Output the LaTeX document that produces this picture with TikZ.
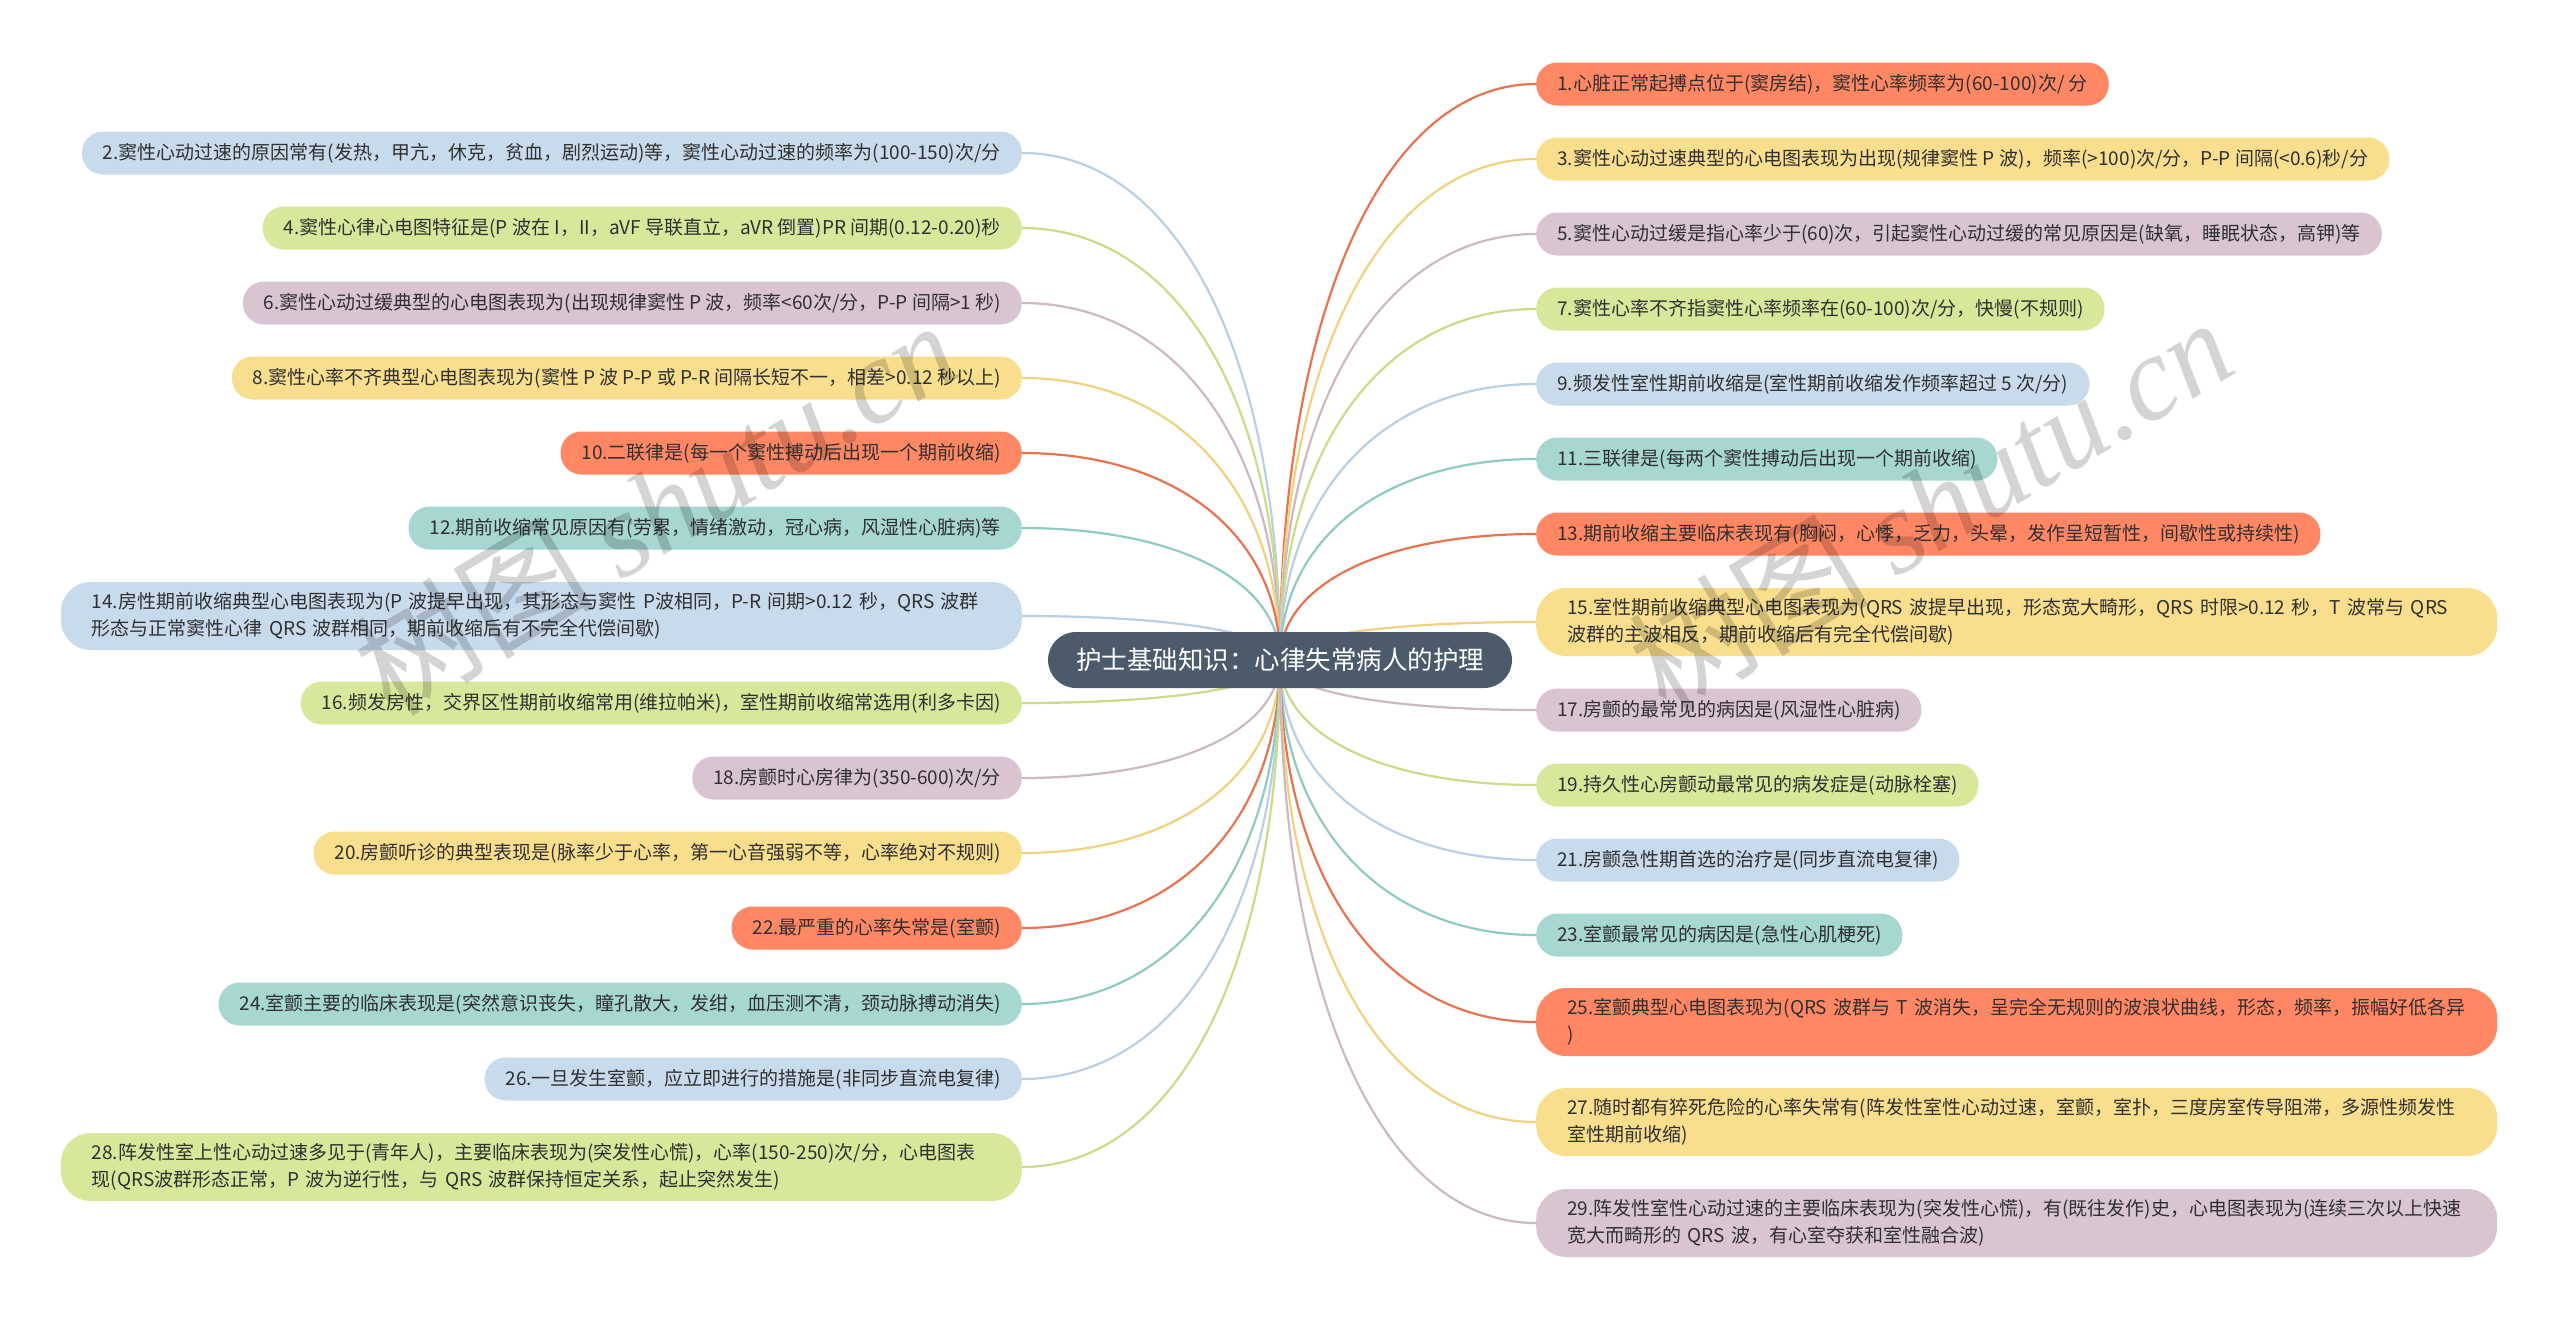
\documentclass[tikz,border=0pt]{standalone}
\usepackage{fontspec}
\setmainfont{Noto Sans CJK SC}
\newfontfamily\cjk{Noto Sans CJK SC}
\newfontfamily\wmlatin{Liberation Serif}
\usetikzlibrary{calc,backgrounds}
\definecolor{txt}{HTML}{303030}
\definecolor{rootc}{HTML}{4B5B6B}
\definecolor{fR}{HTML}{FF8764}\definecolor{lR}{HTML}{E8734F}
\definecolor{fY}{HTML}{F8DE8D}\definecolor{lY}{HTML}{F0D27E}
\definecolor{fM}{HTML}{D9C5D1}\definecolor{lM}{HTML}{CDB8C6}
\definecolor{fG}{HTML}{D8E89B}\definecolor{lG}{HTML}{C9DD88}
\definecolor{fB}{HTML}{C8DBEC}\definecolor{lB}{HTML}{B9CFE4}
\definecolor{fT}{HTML}{A6D7D0}\definecolor{lT}{HTML}{8FCBC2}
\newcommand\mmconn[3]{\draw[link,#3] (root.center) .. controls ($(root.center)!0.6!(root.center |- #1.#2)$) and ($(#1.#2)!0.6!(root.center |- #1.#2)$) .. (#1.#2);}
\tikzset{
  leaf/.style={rounded corners=21pt, minimum height=43pt, inner xsep=21pt, inner ysep=0pt, text=txt, font=\cjk\fontsize{19pt}{27pt}\selectfont},
  twoline/.style={rounded corners=30pt, minimum height=68pt, text width=899pt, inner xsep=31pt, align=left},
  lft/.style={anchor=east},
  rgt/.style={anchor=west},
  link/.style={line width=2.2pt},
  rootbox/.style={rounded corners=28pt, fill=rootc, text=white, minimum height=56pt, minimum width=457pt, inner xsep=28pt, font=\cjk\fontsize{25.5pt}{30pt}\selectfont},
  wmark/.style={text=black, text opacity=0.17, rotate=31, font=\fontsize{120pt}{120pt}\selectfont}
}
\begin{document}
\begin{tikzpicture}[x=1pt,y=-1pt]
\useasboundingbox (0,0) rectangle (2560,1320);
\node[rootbox] (root) at (1280,660) {护士基础知识：心律失常病人的护理};
% left
\node[leaf, fill=fB, lft] (n2) at (1022,153) {2.窦性心动过速的原因常有(发热，甲亢，休克，贫血，剧烈运动)等，窦性心动过速的频率为(100-150)次/分};
\node[leaf, fill=fG, lft] (n4) at (1022,228) {4.窦性心律心电图特征是(P 波在 I，II，aVF 导联直立，aVR 倒置)PR 间期(0.12-0.20)秒};
\node[leaf, fill=fM, lft] (n6) at (1022,303) {6.窦性心动过缓典型的心电图表现为(出现规律窦性 P 波，频率<60次/分，P-P 间隔>1 秒)};
\node[leaf, fill=fY, lft] (n8) at (1022,378) {8.窦性心率不齐典型心电图表现为(窦性 P 波 P-P 或 P-R 间隔长短不一，相差>0.12 秒以上)};
\node[leaf, fill=fR, lft] (n10) at (1022,453) {10.二联律是(每一个窦性搏动后出现一个期前收缩)};
\node[leaf, fill=fT, lft] (n12) at (1022,528) {12.期前收缩常见原因有(劳累，情绪激动，冠心病，风湿性心脏病)等};
\node[leaf, twoline, fill=fB, lft] (n14) at (1022,616) {14.房性期前收缩典型心电图表现为(P 波提早出现，其形态与窦性 P波相同，P-R 间期>0.12 秒，QRS 波群\\形态与正常窦性心律 QRS 波群相同，期前收缩后有不完全代偿间歇)};
\node[leaf, fill=fG, lft] (n16) at (1022,703) {16.频发房性，交界区性期前收缩常用(维拉帕米)，室性期前收缩常选用(利多卡因)};
\node[leaf, fill=fM, lft] (n18) at (1022,778) {18.房颤时心房律为(350-600)次/分};
\node[leaf, fill=fY, lft] (n20) at (1022,853) {20.房颤听诊的典型表现是(脉率少于心率，第一心音强弱不等，心率绝对不规则)};
\node[leaf, fill=fR, lft] (n22) at (1022,928) {22.最严重的心率失常是(室颤)};
\node[leaf, fill=fT, lft] (n24) at (1022,1004) {24.室颤主要的临床表现是(突然意识丧失，瞳孔散大，发绀，血压测不清，颈动脉搏动消失)};
\node[leaf, fill=fB, lft] (n26) at (1022,1079) {26.一旦发生室颤，应立即进行的措施是(非同步直流电复律)};
\node[leaf, twoline, fill=fG, lft] (n28) at (1022,1167) {28.阵发性室上性心动过速多见于(青年人)，主要临床表现为(突发性心慌)，心率(150-250)次/分，心电图表\\现(QRS波群形态正常，P 波为逆行性，与 QRS 波群保持恒定关系，起止突然发生)};
% right
\node[leaf, fill=fR, rgt] (n1) at (1536,84) {1.心脏正常起搏点位于(窦房结)，窦性心率频率为(60-100)次/ 分};
\node[leaf, fill=fY, rgt] (n3) at (1536,159) {3.窦性心动过速典型的心电图表现为出现(规律窦性 P 波)，频率(>100)次/分，P-P 间隔(<0.6)秒/分};
\node[leaf, fill=fM, rgt] (n5) at (1536,234) {5.窦性心动过缓是指心率少于(60)次，引起窦性心动过缓的常见原因是(缺氧，睡眠状态，高钾)等};
\node[leaf, fill=fG, rgt] (n7) at (1536,309) {7.窦性心率不齐指窦性心率频率在(60-100)次/分，快慢(不规则)};
\node[leaf, fill=fB, rgt] (n9) at (1536,384) {9.频发性室性期前收缩是(室性期前收缩发作频率超过 5 次/分)};
\node[leaf, fill=fT, rgt] (n11) at (1536,459) {11.三联律是(每两个窦性搏动后出现一个期前收缩)};
\node[leaf, fill=fR, rgt] (n13) at (1536,534) {13.期前收缩主要临床表现有(胸闷，心悸，乏力，头晕，发作呈短暂性，间歇性或持续性)};
\node[leaf, twoline, fill=fY, rgt] (n15) at (1536,622) {15.室性期前收缩典型心电图表现为(QRS 波提早出现，形态宽大畸形，QRS 时限>0.12 秒，T 波常与 QRS\\波群的主波相反，期前收缩后有完全代偿间歇)};
\node[leaf, fill=fM, rgt] (n17) at (1536,710) {17.房颤的最常见的病因是(风湿性心脏病)};
\node[leaf, fill=fG, rgt] (n19) at (1536,785) {19.持久性心房颤动最常见的病发症是(动脉栓塞)};
\node[leaf, fill=fB, rgt] (n21) at (1536,860) {21.房颤急性期首选的治疗是(同步直流电复律)};
\node[leaf, fill=fT, rgt] (n23) at (1536,935) {23.室颤最常见的病因是(急性心肌梗死)};
\node[leaf, twoline, fill=fR, rgt] (n25) at (1536,1022) {25.室颤典型心电图表现为(QRS 波群与 T 波消失，呈完全无规则的波浪状曲线，形态，频率，振幅好低各异\\)};
\node[leaf, twoline, fill=fY, rgt] (n27) at (1536,1122) {27.随时都有猝死危险的心率失常有(阵发性室性心动过速，室颤，室扑，三度房室传导阻滞，多源性频发性\\室性期前收缩)};
\node[leaf, twoline, fill=fM, rgt] (n29) at (1536,1223) {29.阵发性室性心动过速的主要临床表现为(突发性心慌)，有(既往发作)史，心电图表现为(连续三次以上快速\\宽大而畸形的 QRS 波，有心室夺获和室性融合波)};
\begin{scope}[on background layer]
\fill[white] (0,0) rectangle (2560,1320);
\mmconn{n2}{east}{lB}
\mmconn{n4}{east}{lG}
\mmconn{n6}{east}{lM}
\mmconn{n8}{east}{lY}
\mmconn{n10}{east}{lR}
\mmconn{n12}{east}{lT}
\mmconn{n14}{east}{lB}
\mmconn{n16}{east}{lG}
\mmconn{n18}{east}{lM}
\mmconn{n20}{east}{lY}
\mmconn{n22}{east}{lR}
\mmconn{n24}{east}{lT}
\mmconn{n26}{east}{lB}
\mmconn{n28}{east}{lG}
\mmconn{n1}{west}{lR}
\mmconn{n3}{west}{lY}
\mmconn{n5}{west}{lM}
\mmconn{n7}{west}{lG}
\mmconn{n9}{west}{lB}
\mmconn{n11}{west}{lT}
\mmconn{n13}{west}{lR}
\mmconn{n15}{west}{lY}
\mmconn{n17}{west}{lM}
\mmconn{n19}{west}{lG}
\mmconn{n21}{west}{lB}
\mmconn{n23}{west}{lT}
\mmconn{n25}{west}{lR}
\mmconn{n27}{west}{lY}
\mmconn{n29}{west}{lM}
\end{scope}
\node[wmark] (wm1) at (655,507) {{\cjk 树图} {\wmlatin\itshape shutu.cn}};
\node[wmark] (wm2) at (1930,504) {{\cjk 树图} {\wmlatin\itshape shutu.cn}};
\end{tikzpicture}
\end{document}
